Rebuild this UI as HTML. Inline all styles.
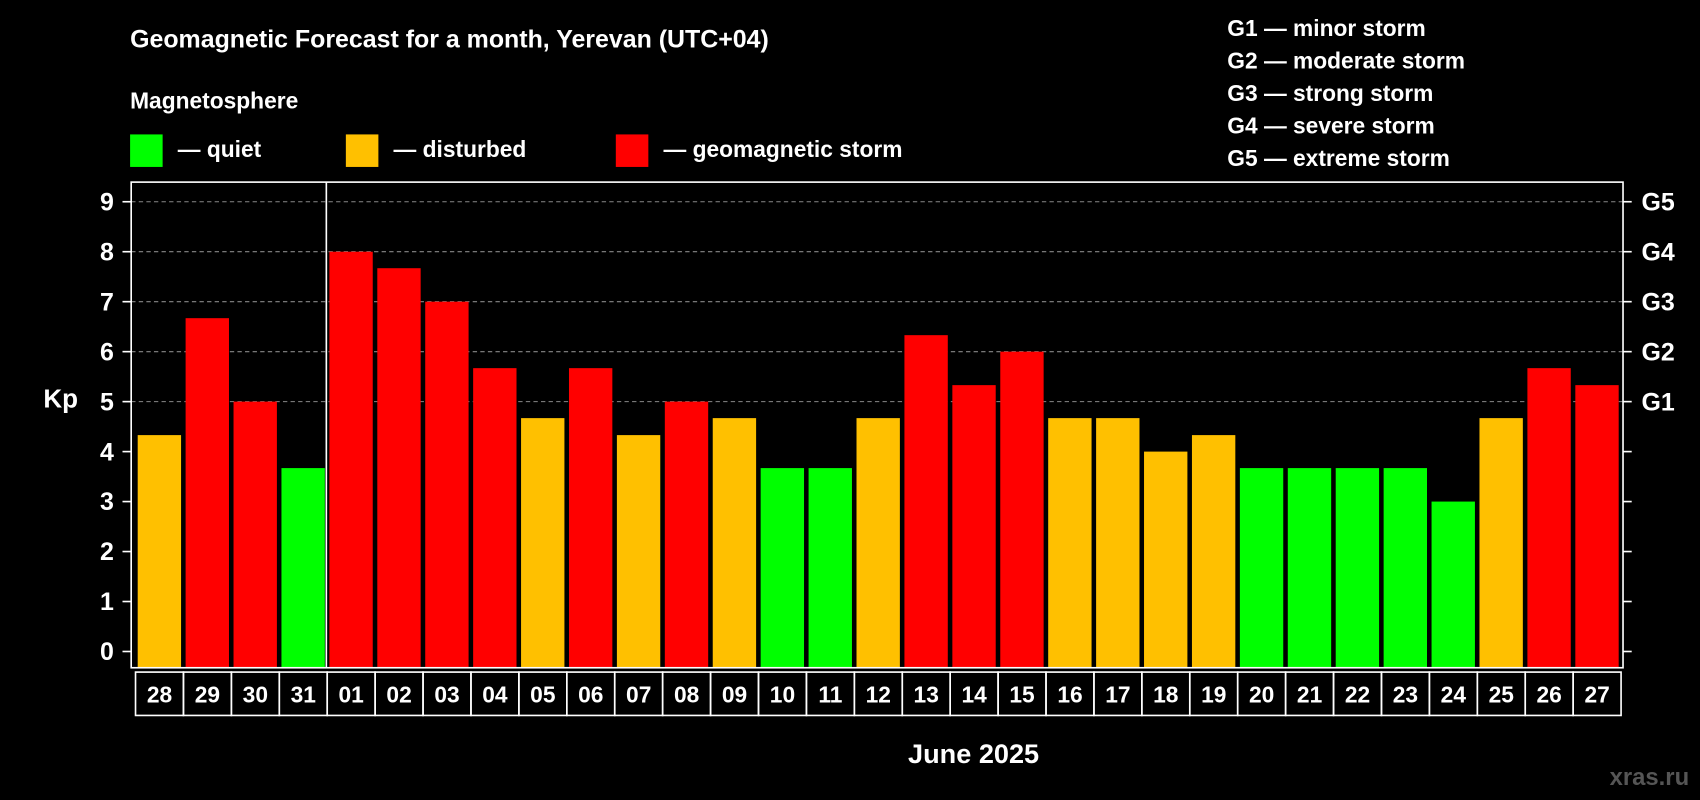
<!DOCTYPE html>
<html><head><meta charset="utf-8"><style>
html,body{margin:0;padding:0;background:#000;}
svg{display:block;font-family:"Liberation Sans",Arial,sans-serif;font-weight:bold;}
</style></head><body>
<svg id="chart" width="1700" height="800" viewBox="0 0 1568 738" preserveAspectRatio="none" xmlns="http://www.w3.org/2000/svg">
<rect width="1568" height="738" fill="#000"/>
<text x="120" y="44" fill="#fff" font-size="23">Geomagnetic Forecast for a month, Yerevan (UTC+04)</text>
<text x="120" y="100" fill="#fff" font-size="21">Magnetosphere</text>
<g><rect x="120" y="124" width="30" height="30" fill="#00ff00"/><text x="164" y="145" fill="#fff" font-size="21">— quiet</text></g>
<g><rect x="319" y="124" width="30" height="30" fill="#ffc000"/><text x="363" y="145" fill="#fff" font-size="21">— disturbed</text></g>
<g><rect x="568" y="124" width="30" height="30" fill="#ff0000"/><text x="612" y="145" fill="#fff" font-size="21">— geomagnetic storm</text></g>
<g fill="#fff" font-size="21">
<text x="1132" y="33">G1 — minor storm</text>
<text x="1132" y="63">G2 — moderate storm</text>
<text x="1132" y="93">G3 — strong storm</text>
<text x="1132" y="123">G4 — severe storm</text>
<text x="1132" y="153">G5 — extreme storm</text>
</g>
<g id="grid"></g>
<g id="bars"></g>
<rect x="121" y="168" width="1376" height="448" fill="none" stroke="#fff" stroke-width="1.5"/>
<line x1="301" y1="168" x2="301" y2="616" stroke="#fff" stroke-width="1.5"/>
<g id="axes"></g>
<text x="40" y="376" fill="#fff" font-size="24">Kp</text>
<text x="898" y="704" fill="#fff" font-size="25" text-anchor="middle">June 2025</text>
<text x="1558" y="724" fill="#555" font-size="22" text-anchor="end">xras.ru</text>
</svg>
<script>
const categories=["28","29","30","31","01","02","03","04","05","06","07","08","09","10","11","12","13","14","15","16","17","18","19","20","21","22","23","24","25","26","27"];
const kpValues=[4.33,6.67,5,3.67,8,7.67,7,5.67,4.67,5.67,4.33,5,4.67,3.67,3.67,4.67,6.33,5.33,6,4.67,4.67,4,4.33,3.67,3.67,3.67,3.67,3,4.67,5.67,5.33];
const yTicks=[0,1,2,3,4,5,6,7,8,9];
const gLabels=["","","","","","G1","G2","G3","G4","G5"];
const NS="http://www.w3.org/2000/svg";
const y0=601,yUnit=46.1,x0=125,pitch=44.2,bw=40;
const yScale=v=>y0-v*yUnit;
const xScale=i=>x0+i*pitch;
function mk(t,a,p){const e=document.createElementNS(NS,t);for(const k in a)e.setAttribute(k,a[k]);p.appendChild(e);return e;}
const grid=document.getElementById('grid'),bars=document.getElementById('bars'),axes=document.getElementById('axes');
yTicks.forEach((v,i)=>{
 const y=yScale(v);
 if(v>=5){const l=mk('line',{x1:121,x2:1497,y1:y,y2:y,stroke:'#888','stroke-dasharray':'4,3','stroke-width':1},grid);
 
 }
 const t=mk('text',{x:105,y:y+8,fill:'#fff','font-size':23,'text-anchor':'end'},axes);t.textContent=v;
 
 
 mk('line',{x1:113,x2:121,y1:y,y2:y,stroke:'#fff','stroke-width':1.5},axes);
 mk('line',{x1:1497,x2:1505,y1:y,y2:y,stroke:'#fff','stroke-width':1.5},axes);
 if(gLabels[i]){const g=mk('text',{x:1514,y:y+8,fill:'#fff','font-size':23},axes);g.textContent=gLabels[i];
 
 }
});
kpValues.forEach((v,i)=>{
 const c=v<4?'#00ff00':(v<5?'#ffc000':'#ff0000');
 const r=mk('rect',{x:xScale(i)+2,y:yScale(v),width:bw,height:616-yScale(v),fill:c},bars);
 
 
 const b=mk('rect',{x:xScale(i),y:620,width:pitch,height:40,fill:'none',stroke:'#fff','stroke-width':1.5},axes);
 
 
 const t=mk('text',{x:xScale(i)+pitch/2,y:648,fill:'#fff','font-size':21,'text-anchor':'middle'},axes);t.textContent=categories[i];
 
 
});
</script>
</body></html>
